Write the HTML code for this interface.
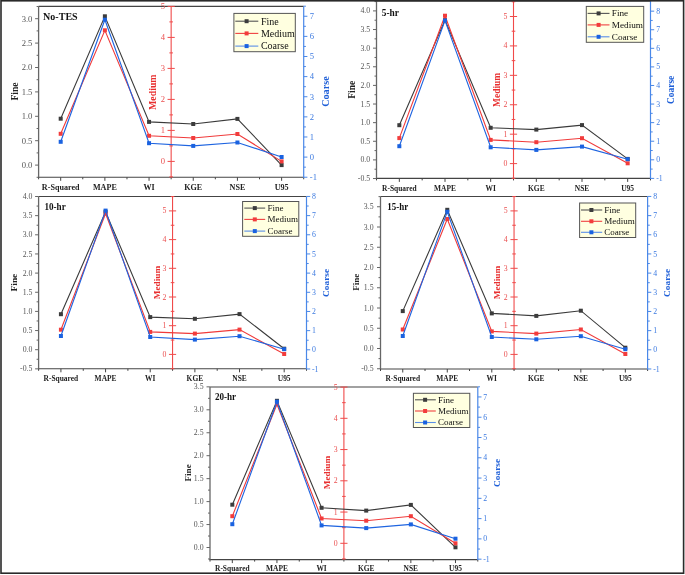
<!DOCTYPE html>
<html><head><meta charset="utf-8"><title>Chart</title>
<style>
html,body{margin:0;padding:0;background:#fff;}
body{width:685px;height:575px;overflow:hidden;font-family:"Liberation Serif", serif;}
svg{display:block;will-change:transform;}
</style></head><body>
<svg width="685" height="575" viewBox="0 0 685 575" font-family="'Liberation Serif', serif">
<rect x="0" y="0" width="685" height="575" fill="#fff"/>
<path d="M38.6 6.4H303.7" stroke="#444" stroke-width="1.1" fill="none"/>
<path d="M38.1 177.3H303.7" stroke="#444" stroke-width="1.1" fill="none"/>
<path d="M38.6 6.4V177.8" stroke="#666" stroke-width="1.3" fill="none"/>
<path d="M60.69 177.3v3.5M104.88 177.3v3.5M149.06 177.3v3.5M193.24 177.3v3.5M237.42 177.3v3.5M281.61 177.3v3.5M38.6 177.3v2M82.78 177.3v2M126.97 177.3v2M171.15 177.3v2M215.33 177.3v2M259.52 177.3v2M303.7 177.3v2" stroke="#444" stroke-width="1" fill="none"/>
<path d="M38.6 177.3h-2M38.6 165.1h-3.5M38.6 152.9h-2M38.6 140.7h-3.5M38.6 128.5h-2M38.6 116.3h-3.5M38.6 104.1h-2M38.6 91.9h-3.5M38.6 79.7h-2M38.6 67.5h-3.5M38.6 55.3h-2M38.6 43.1h-3.5M38.6 30.9h-2M38.6 18.7h-3.5M38.6 6.5h-2" stroke="#666" stroke-width="1" fill="none"/>
<text x="32.4" y="167.94" font-size="8.6" fill="#555" text-anchor="end">0.0</text>
<text x="32.4" y="143.54" font-size="8.6" fill="#555" text-anchor="end">0.5</text>
<text x="32.4" y="119.14" font-size="8.6" fill="#555" text-anchor="end">1.0</text>
<text x="32.4" y="94.74" font-size="8.6" fill="#555" text-anchor="end">1.5</text>
<text x="32.4" y="70.34" font-size="8.6" fill="#555" text-anchor="end">2.0</text>
<text x="32.4" y="45.94" font-size="8.6" fill="#555" text-anchor="end">2.5</text>
<text x="32.4" y="21.54" font-size="8.6" fill="#555" text-anchor="end">3.0</text>
<path d="M171.15 6.4V177.3" stroke="#f04a4a" stroke-width="1.1" fill="none"/>
<path d="M169.35 176.9h3.6M167.55 161.4h7.2M169.35 145.9h3.6M167.55 130.4h7.2M169.35 114.9h3.6M167.55 99.4h7.2M169.35 83.9h3.6M167.55 68.4h7.2M169.35 52.9h3.6M167.55 37.4h7.2M169.35 21.9h3.6M167.55 6.4h7.2" stroke="#f04a4a" stroke-width="1" fill="none"/>
<text x="165.1" y="164.24" font-size="8.6" fill="#ea5050" text-anchor="end">0</text>
<text x="165.1" y="133.24" font-size="8.6" fill="#ea5050" text-anchor="end">1</text>
<text x="165.1" y="102.24" font-size="8.6" fill="#ea5050" text-anchor="end">2</text>
<text x="165.1" y="71.24" font-size="8.6" fill="#ea5050" text-anchor="end">3</text>
<text x="165.1" y="40.24" font-size="8.6" fill="#ea5050" text-anchor="end">4</text>
<text x="165.1" y="9.24" font-size="8.6" fill="#ea5050" text-anchor="end">5</text>
<path d="M303.7 6.4V177.8" stroke="#4a88e8" stroke-width="1.2" fill="none"/>
<path d="M303.7 177.22h3.7M303.7 167.16h2.2M303.7 157.1h3.7M303.7 147.04h2.2M303.7 136.98h3.7M303.7 126.92h2.2M303.7 116.86h3.7M303.7 106.8h2.2M303.7 96.74h3.7M303.7 86.68h2.2M303.7 76.62h3.7M303.7 66.56h2.2M303.7 56.5h3.7M303.7 46.44h2.2M303.7 36.38h3.7M303.7 26.32h2.2M303.7 16.26h3.7M303.7 6.2h2.2" stroke="#4a88e8" stroke-width="1" fill="none"/>
<text x="309.8" y="180.06" font-size="8.6" fill="#3c7ae0" text-anchor="start">-1</text>
<text x="309.8" y="159.94" font-size="8.6" fill="#3c7ae0" text-anchor="start">0</text>
<text x="309.8" y="139.82" font-size="8.6" fill="#3c7ae0" text-anchor="start">1</text>
<text x="309.8" y="119.7" font-size="8.6" fill="#3c7ae0" text-anchor="start">2</text>
<text x="309.8" y="99.58" font-size="8.6" fill="#3c7ae0" text-anchor="start">3</text>
<text x="309.8" y="79.46" font-size="8.6" fill="#3c7ae0" text-anchor="start">4</text>
<text x="309.8" y="59.34" font-size="8.6" fill="#3c7ae0" text-anchor="start">5</text>
<text x="309.8" y="39.22" font-size="8.6" fill="#3c7ae0" text-anchor="start">6</text>
<text x="309.8" y="19.1" font-size="8.6" fill="#3c7ae0" text-anchor="start">7</text>
<text x="60.69" y="190.1" font-size="8.1" font-weight="bold" fill="#222" text-anchor="middle">R-Squared</text>
<text x="104.88" y="190.1" font-size="8.1" font-weight="bold" fill="#222" text-anchor="middle">MAPE</text>
<text x="149.06" y="190.1" font-size="8.1" font-weight="bold" fill="#222" text-anchor="middle">WI</text>
<text x="193.24" y="190.1" font-size="8.1" font-weight="bold" fill="#222" text-anchor="middle">KGE</text>
<text x="237.42" y="190.1" font-size="8.1" font-weight="bold" fill="#222" text-anchor="middle">NSE</text>
<text x="281.61" y="190.1" font-size="8.1" font-weight="bold" fill="#222" text-anchor="middle">U95</text>
<polyline points="60.69,118.7 104.88,16.3 149.06,121.9 193.24,124 237.42,118.9 281.61,165.1" stroke="#3a3a3a" stroke-width="1.1" fill="none"/><rect x="58.69" y="116.7" width="4" height="4" fill="#3c3c3c"/><rect x="102.88" y="14.3" width="4" height="4" fill="#3c3c3c"/><rect x="147.06" y="119.9" width="4" height="4" fill="#3c3c3c"/><rect x="191.24" y="122" width="4" height="4" fill="#3c3c3c"/><rect x="235.42" y="116.9" width="4" height="4" fill="#3c3c3c"/><rect x="279.61" y="163.1" width="4" height="4" fill="#3c3c3c"/>
<polyline points="60.69,133.8 104.88,30.3 149.06,135.8 193.24,138 237.42,134 281.61,161.4" stroke="#f03a3a" stroke-width="1.1" fill="none"/><rect x="58.69" y="131.8" width="4" height="4" fill="#f23c3c"/><rect x="102.88" y="28.3" width="4" height="4" fill="#f23c3c"/><rect x="147.06" y="133.8" width="4" height="4" fill="#f23c3c"/><rect x="191.24" y="136" width="4" height="4" fill="#f23c3c"/><rect x="235.42" y="132" width="4" height="4" fill="#f23c3c"/><rect x="279.61" y="159.4" width="4" height="4" fill="#f23c3c"/>
<polyline points="60.69,141.8 104.88,19.7 149.06,143.2 193.24,145.9 237.42,142.5 281.61,157" stroke="#1e64e0" stroke-width="1.1" fill="none"/><rect x="58.69" y="139.8" width="4" height="4" fill="#1a62e0"/><rect x="102.88" y="17.7" width="4" height="4" fill="#1a62e0"/><rect x="147.06" y="141.2" width="4" height="4" fill="#1a62e0"/><rect x="191.24" y="143.9" width="4" height="4" fill="#1a62e0"/><rect x="235.42" y="140.5" width="4" height="4" fill="#1a62e0"/><rect x="279.61" y="155" width="4" height="4" fill="#1a62e0"/>
<text x="43.1" y="20" font-size="10.3" fill="#111" text-anchor="start" font-weight="bold" textLength="34.6" lengthAdjust="spacingAndGlyphs">No-TES</text>
<rect x="233.9" y="13.4" width="61.4" height="38.3" fill="#ffffe0" stroke="#555" stroke-width="1"/>
<path d="M235.3 21.2H258.3" stroke="#555" stroke-width="1.1"/>
<rect x="244.6" y="19.2" width="4" height="4" fill="#3c3c3c"/>
<text x="260.9" y="24.5" font-size="10" fill="#111" text-anchor="start">Fine</text>
<path d="M235.3 33.4H258.3" stroke="#f04040" stroke-width="1.1"/>
<rect x="244.6" y="31.4" width="4" height="4" fill="#f23c3c"/>
<text x="260.9" y="36.7" font-size="10" fill="#111" text-anchor="start">Medium</text>
<path d="M235.3 46.1H258.3" stroke="#5a8ee8" stroke-width="1.1"/>
<rect x="244.6" y="44.1" width="4" height="4" fill="#1a62e0"/>
<text x="260.9" y="49.4" font-size="10" fill="#111" text-anchor="start">Coarse</text>
<text transform="translate(17.9 91.5) rotate(-90)" x="0" y="0" font-size="9.8" font-weight="bold" fill="#222" text-anchor="middle" textLength="18.1" lengthAdjust="spacingAndGlyphs">Fine</text>
<text transform="translate(156.3 92.2) rotate(-90)" x="0" y="0" font-size="9.8" font-weight="bold" fill="#e83030" text-anchor="middle" textLength="35.5" lengthAdjust="spacingAndGlyphs">Medium</text>
<text transform="translate(328.7 91.6) rotate(-90)" x="0" y="0" font-size="9.8" font-weight="bold" fill="#1e5fd8" text-anchor="middle" textLength="30.5" lengthAdjust="spacingAndGlyphs">Coarse</text>
<path d="M376.5 1H650.5" stroke="#444" stroke-width="1.1" fill="none"/>
<path d="M376 178.4H650.5" stroke="#444" stroke-width="1.1" fill="none"/>
<path d="M376.5 1V178.9" stroke="#666" stroke-width="1.3" fill="none"/>
<path d="M399.33 178.4v3.5M445 178.4v3.5M490.67 178.4v3.5M536.33 178.4v3.5M582 178.4v3.5M627.67 178.4v3.5M376.5 178.4v2M422.17 178.4v2M467.83 178.4v2M513.5 178.4v2M559.17 178.4v2M604.83 178.4v2M650.5 178.4v2" stroke="#444" stroke-width="1" fill="none"/>
<path d="M376.5 178.53h-3.5M376.5 169.21h-2M376.5 159.9h-3.5M376.5 150.59h-2M376.5 141.28h-3.5M376.5 131.96h-2M376.5 122.65h-3.5M376.5 113.34h-2M376.5 104.03h-3.5M376.5 94.71h-2M376.5 85.4h-3.5M376.5 76.09h-2M376.5 66.78h-3.5M376.5 57.46h-2M376.5 48.15h-3.5M376.5 38.84h-2M376.5 29.53h-3.5M376.5 20.21h-2M376.5 10.9h-3.5M376.5 1.59h-2" stroke="#666" stroke-width="1" fill="none"/>
<text x="370.2" y="181.1" font-size="7.8" fill="#555" text-anchor="end">-0.5</text>
<text x="370.2" y="162.47" font-size="7.8" fill="#555" text-anchor="end">0.0</text>
<text x="370.2" y="143.85" font-size="7.8" fill="#555" text-anchor="end">0.5</text>
<text x="370.2" y="125.22" font-size="7.8" fill="#555" text-anchor="end">1.0</text>
<text x="370.2" y="106.6" font-size="7.8" fill="#555" text-anchor="end">1.5</text>
<text x="370.2" y="87.97" font-size="7.8" fill="#555" text-anchor="end">2.0</text>
<text x="370.2" y="69.35" font-size="7.8" fill="#555" text-anchor="end">2.5</text>
<text x="370.2" y="50.72" font-size="7.8" fill="#555" text-anchor="end">3.0</text>
<text x="370.2" y="32.1" font-size="7.8" fill="#555" text-anchor="end">3.5</text>
<text x="370.2" y="13.47" font-size="7.8" fill="#555" text-anchor="end">4.0</text>
<path d="M513.5 1V178.4" stroke="#f04a4a" stroke-width="1.1" fill="none"/>
<path d="M511.7 178.31h3.6M509.9 163.6h7.2M511.7 148.89h3.6M509.9 134.18h7.2M511.7 119.47h3.6M509.9 104.76h7.2M511.7 90.05h3.6M509.9 75.34h7.2M511.7 60.63h3.6M509.9 45.92h7.2M511.7 31.21h3.6M509.9 16.5h7.2M511.7 1.79h3.6" stroke="#f04a4a" stroke-width="1" fill="none"/>
<text x="507.4" y="166.17" font-size="7.8" fill="#ea5050" text-anchor="end">0</text>
<text x="507.4" y="136.75" font-size="7.8" fill="#ea5050" text-anchor="end">1</text>
<text x="507.4" y="107.33" font-size="7.8" fill="#ea5050" text-anchor="end">2</text>
<text x="507.4" y="77.91" font-size="7.8" fill="#ea5050" text-anchor="end">3</text>
<text x="507.4" y="48.49" font-size="7.8" fill="#ea5050" text-anchor="end">4</text>
<text x="507.4" y="19.07" font-size="7.8" fill="#ea5050" text-anchor="end">5</text>
<path d="M650.5 1V178.9" stroke="#4a88e8" stroke-width="1.2" fill="none"/>
<path d="M650.5 178.38h3.7M650.5 169.09h2.2M650.5 159.8h3.7M650.5 150.51h2.2M650.5 141.22h3.7M650.5 131.93h2.2M650.5 122.64h3.7M650.5 113.35h2.2M650.5 104.06h3.7M650.5 94.77h2.2M650.5 85.48h3.7M650.5 76.19h2.2M650.5 66.9h3.7M650.5 57.61h2.2M650.5 48.32h3.7M650.5 39.03h2.2M650.5 29.74h3.7M650.5 20.45h2.2M650.5 11.16h3.7" stroke="#4a88e8" stroke-width="1" fill="none"/>
<text x="656.2" y="180.95" font-size="7.8" fill="#3c7ae0" text-anchor="start">-1</text>
<text x="656.2" y="162.37" font-size="7.8" fill="#3c7ae0" text-anchor="start">0</text>
<text x="656.2" y="143.79" font-size="7.8" fill="#3c7ae0" text-anchor="start">1</text>
<text x="656.2" y="125.21" font-size="7.8" fill="#3c7ae0" text-anchor="start">2</text>
<text x="656.2" y="106.63" font-size="7.8" fill="#3c7ae0" text-anchor="start">3</text>
<text x="656.2" y="88.05" font-size="7.8" fill="#3c7ae0" text-anchor="start">4</text>
<text x="656.2" y="69.47" font-size="7.8" fill="#3c7ae0" text-anchor="start">5</text>
<text x="656.2" y="50.89" font-size="7.8" fill="#3c7ae0" text-anchor="start">6</text>
<text x="656.2" y="32.31" font-size="7.8" fill="#3c7ae0" text-anchor="start">7</text>
<text x="656.2" y="13.73" font-size="7.8" fill="#3c7ae0" text-anchor="start">8</text>
<text x="399.33" y="190.6" font-size="7.45" font-weight="bold" fill="#222" text-anchor="middle">R-Squared</text>
<text x="445" y="190.6" font-size="7.45" font-weight="bold" fill="#222" text-anchor="middle">MAPE</text>
<text x="490.67" y="190.6" font-size="7.45" font-weight="bold" fill="#222" text-anchor="middle">WI</text>
<text x="536.33" y="190.6" font-size="7.45" font-weight="bold" fill="#222" text-anchor="middle">KGE</text>
<text x="582" y="190.6" font-size="7.45" font-weight="bold" fill="#222" text-anchor="middle">NSE</text>
<text x="627.67" y="190.6" font-size="7.45" font-weight="bold" fill="#222" text-anchor="middle">U95</text>
<polyline points="399.33,125.2 445,20.1 490.67,127.8 536.33,129.6 582,125.1 627.67,158.9" stroke="#3a3a3a" stroke-width="1.1" fill="none"/><rect x="397.33" y="123.2" width="4" height="4" fill="#3c3c3c"/><rect x="443" y="18.1" width="4" height="4" fill="#3c3c3c"/><rect x="488.67" y="125.8" width="4" height="4" fill="#3c3c3c"/><rect x="534.33" y="127.6" width="4" height="4" fill="#3c3c3c"/><rect x="580" y="123.1" width="4" height="4" fill="#3c3c3c"/><rect x="625.67" y="156.9" width="4" height="4" fill="#3c3c3c"/>
<polyline points="399.33,138.1 445,15.7 490.67,139.9 536.33,142.2 582,138.2 627.67,163.3" stroke="#f03a3a" stroke-width="1.1" fill="none"/><rect x="397.33" y="136.1" width="4" height="4" fill="#f23c3c"/><rect x="443" y="13.7" width="4" height="4" fill="#f23c3c"/><rect x="488.67" y="137.9" width="4" height="4" fill="#f23c3c"/><rect x="534.33" y="140.2" width="4" height="4" fill="#f23c3c"/><rect x="580" y="136.2" width="4" height="4" fill="#f23c3c"/><rect x="625.67" y="161.3" width="4" height="4" fill="#f23c3c"/>
<polyline points="399.33,146.2 445,20.5 490.67,147.3 536.33,149.9 582,146.6 627.67,159.2" stroke="#1e64e0" stroke-width="1.1" fill="none"/><rect x="397.33" y="144.2" width="4" height="4" fill="#1a62e0"/><rect x="443" y="18.5" width="4" height="4" fill="#1a62e0"/><rect x="488.67" y="145.3" width="4" height="4" fill="#1a62e0"/><rect x="534.33" y="147.9" width="4" height="4" fill="#1a62e0"/><rect x="580" y="144.6" width="4" height="4" fill="#1a62e0"/><rect x="625.67" y="157.2" width="4" height="4" fill="#1a62e0"/>
<text x="381.7" y="15.7" font-size="9.6" fill="#111" text-anchor="start" font-weight="bold" textLength="17.2" lengthAdjust="spacingAndGlyphs">5-hr</text>
<rect x="586.3" y="6.4" width="57.4" height="35.9" fill="#ffffe0" stroke="#555" stroke-width="1"/>
<path d="M587.6 13.4H609.5" stroke="#555" stroke-width="1.1"/>
<rect x="596.6" y="11.4" width="4" height="4" fill="#3c3c3c"/>
<text x="611.8" y="16.44" font-size="9.2" fill="#111" text-anchor="start">Fine</text>
<path d="M587.6 24.9H609.5" stroke="#f04040" stroke-width="1.1"/>
<rect x="596.6" y="22.9" width="4" height="4" fill="#f23c3c"/>
<text x="611.8" y="27.94" font-size="9.2" fill="#111" text-anchor="start">Medium</text>
<path d="M587.6 36.8H609.5" stroke="#5a8ee8" stroke-width="1.1"/>
<rect x="596.6" y="34.8" width="4" height="4" fill="#1a62e0"/>
<text x="611.8" y="39.84" font-size="9.2" fill="#111" text-anchor="start">Coarse</text>
<text transform="translate(354.7 89.8) rotate(-90)" x="0" y="0" font-size="9.4" font-weight="bold" fill="#222" text-anchor="middle" textLength="17.8" lengthAdjust="spacingAndGlyphs">Fine</text>
<text transform="translate(499.7 89.9) rotate(-90)" x="0" y="0" font-size="9.4" font-weight="bold" fill="#e83030" text-anchor="middle" textLength="34.1" lengthAdjust="spacingAndGlyphs">Medium</text>
<text transform="translate(673.7 89.9) rotate(-90)" x="0" y="0" font-size="9.4" font-weight="bold" fill="#1e5fd8" text-anchor="middle" textLength="28.3" lengthAdjust="spacingAndGlyphs">Coarse</text>
<path d="M38.6 196.5H306.5" stroke="#444" stroke-width="1.1" fill="none"/>
<path d="M38.1 368.8H306.5" stroke="#444" stroke-width="1.1" fill="none"/>
<path d="M38.6 196.5V369.3" stroke="#666" stroke-width="1.3" fill="none"/>
<path d="M60.92 368.8v3.5M105.57 368.8v3.5M150.22 368.8v3.5M194.88 368.8v3.5M239.52 368.8v3.5M284.18 368.8v3.5M38.6 368.8v2M83.25 368.8v2M127.9 368.8v2M172.55 368.8v2M217.2 368.8v2M261.85 368.8v2M306.5 368.8v2" stroke="#444" stroke-width="1" fill="none"/>
<path d="M38.6 368.85h-3.5M38.6 359.27h-2M38.6 349.7h-3.5M38.6 340.12h-2M38.6 330.55h-3.5M38.6 320.97h-2M38.6 311.4h-3.5M38.6 301.82h-2M38.6 292.25h-3.5M38.6 282.68h-2M38.6 273.1h-3.5M38.6 263.52h-2M38.6 253.95h-3.5M38.6 244.38h-2M38.6 234.8h-3.5M38.6 225.22h-2M38.6 215.65h-3.5M38.6 206.07h-2M38.6 196.5h-3.5" stroke="#666" stroke-width="1" fill="none"/>
<text x="32.4" y="371.42" font-size="7.8" fill="#555" text-anchor="end">-0.5</text>
<text x="32.4" y="352.27" font-size="7.8" fill="#555" text-anchor="end">0.0</text>
<text x="32.4" y="333.12" font-size="7.8" fill="#555" text-anchor="end">0.5</text>
<text x="32.4" y="313.97" font-size="7.8" fill="#555" text-anchor="end">1.0</text>
<text x="32.4" y="294.82" font-size="7.8" fill="#555" text-anchor="end">1.5</text>
<text x="32.4" y="275.67" font-size="7.8" fill="#555" text-anchor="end">2.0</text>
<text x="32.4" y="256.52" font-size="7.8" fill="#555" text-anchor="end">2.5</text>
<text x="32.4" y="237.37" font-size="7.8" fill="#555" text-anchor="end">3.0</text>
<text x="32.4" y="218.22" font-size="7.8" fill="#555" text-anchor="end">3.5</text>
<text x="32.4" y="199.07" font-size="7.8" fill="#555" text-anchor="end">4.0</text>
<path d="M172.55 196.5V368.8" stroke="#f04a4a" stroke-width="1.1" fill="none"/>
<path d="M170.75 368.75h3.6M168.95 354.4h7.2M170.75 340.05h3.6M168.95 325.7h7.2M170.75 311.35h3.6M168.95 297h7.2M170.75 282.65h3.6M168.95 268.3h7.2M170.75 253.95h3.6M168.95 239.6h7.2M170.75 225.25h3.6M168.95 210.9h7.2M170.75 196.55h3.6" stroke="#f04a4a" stroke-width="1" fill="none"/>
<text x="166.4" y="356.97" font-size="7.8" fill="#ea5050" text-anchor="end">0</text>
<text x="166.4" y="328.27" font-size="7.8" fill="#ea5050" text-anchor="end">1</text>
<text x="166.4" y="299.57" font-size="7.8" fill="#ea5050" text-anchor="end">2</text>
<text x="166.4" y="270.87" font-size="7.8" fill="#ea5050" text-anchor="end">3</text>
<text x="166.4" y="242.17" font-size="7.8" fill="#ea5050" text-anchor="end">4</text>
<text x="166.4" y="213.47" font-size="7.8" fill="#ea5050" text-anchor="end">5</text>
<path d="M306.5 196.5V369.3" stroke="#4a88e8" stroke-width="1.2" fill="none"/>
<path d="M306.5 368.97h3.7M306.5 359.38h2.2M306.5 349.8h3.7M306.5 340.22h2.2M306.5 330.63h3.7M306.5 321.05h2.2M306.5 311.46h3.7M306.5 301.88h2.2M306.5 292.29h3.7M306.5 282.71h2.2M306.5 273.12h3.7M306.5 263.53h2.2M306.5 253.95h3.7M306.5 244.37h2.2M306.5 234.78h3.7M306.5 225.19h2.2M306.5 215.61h3.7M306.5 206.03h2.2M306.5 196.44h3.7" stroke="#4a88e8" stroke-width="1" fill="none"/>
<text x="311.9" y="371.54" font-size="7.8" fill="#3c7ae0" text-anchor="start">-1</text>
<text x="311.9" y="352.37" font-size="7.8" fill="#3c7ae0" text-anchor="start">0</text>
<text x="311.9" y="333.2" font-size="7.8" fill="#3c7ae0" text-anchor="start">1</text>
<text x="311.9" y="314.03" font-size="7.8" fill="#3c7ae0" text-anchor="start">2</text>
<text x="311.9" y="294.86" font-size="7.8" fill="#3c7ae0" text-anchor="start">3</text>
<text x="311.9" y="275.69" font-size="7.8" fill="#3c7ae0" text-anchor="start">4</text>
<text x="311.9" y="256.52" font-size="7.8" fill="#3c7ae0" text-anchor="start">5</text>
<text x="311.9" y="237.35" font-size="7.8" fill="#3c7ae0" text-anchor="start">6</text>
<text x="311.9" y="218.18" font-size="7.8" fill="#3c7ae0" text-anchor="start">7</text>
<text x="311.9" y="199.01" font-size="7.8" fill="#3c7ae0" text-anchor="start">8</text>
<text x="60.92" y="381.1" font-size="7.45" font-weight="bold" fill="#222" text-anchor="middle">R-Squared</text>
<text x="105.57" y="381.1" font-size="7.45" font-weight="bold" fill="#222" text-anchor="middle">MAPE</text>
<text x="150.22" y="381.1" font-size="7.45" font-weight="bold" fill="#222" text-anchor="middle">WI</text>
<text x="194.88" y="381.1" font-size="7.45" font-weight="bold" fill="#222" text-anchor="middle">KGE</text>
<text x="239.52" y="381.1" font-size="7.45" font-weight="bold" fill="#222" text-anchor="middle">NSE</text>
<text x="284.18" y="381.1" font-size="7.45" font-weight="bold" fill="#222" text-anchor="middle">U95</text>
<polyline points="60.92,314.2 105.57,211.8 150.22,317.1 194.88,318.8 239.52,314.1 284.18,348.7" stroke="#3a3a3a" stroke-width="1.1" fill="none"/><rect x="58.92" y="312.2" width="4" height="4" fill="#3c3c3c"/><rect x="103.57" y="209.8" width="4" height="4" fill="#3c3c3c"/><rect x="148.22" y="315.1" width="4" height="4" fill="#3c3c3c"/><rect x="192.88" y="316.8" width="4" height="4" fill="#3c3c3c"/><rect x="237.52" y="312.1" width="4" height="4" fill="#3c3c3c"/><rect x="282.18" y="346.7" width="4" height="4" fill="#3c3c3c"/>
<polyline points="60.92,329.7 105.57,213.5 150.22,331.9 194.88,333.6 239.52,329.6 284.18,354" stroke="#f03a3a" stroke-width="1.1" fill="none"/><rect x="58.92" y="327.7" width="4" height="4" fill="#f23c3c"/><rect x="103.57" y="211.5" width="4" height="4" fill="#f23c3c"/><rect x="148.22" y="329.9" width="4" height="4" fill="#f23c3c"/><rect x="192.88" y="331.6" width="4" height="4" fill="#f23c3c"/><rect x="237.52" y="327.6" width="4" height="4" fill="#f23c3c"/><rect x="282.18" y="352" width="4" height="4" fill="#f23c3c"/>
<polyline points="60.92,336 105.57,210.6 150.22,337 194.88,339.6 239.52,336.2 284.18,349.2" stroke="#1e64e0" stroke-width="1.1" fill="none"/><rect x="58.92" y="334" width="4" height="4" fill="#1a62e0"/><rect x="103.57" y="208.6" width="4" height="4" fill="#1a62e0"/><rect x="148.22" y="335" width="4" height="4" fill="#1a62e0"/><rect x="192.88" y="337.6" width="4" height="4" fill="#1a62e0"/><rect x="237.52" y="334.2" width="4" height="4" fill="#1a62e0"/><rect x="282.18" y="347.2" width="4" height="4" fill="#1a62e0"/>
<text x="44.5" y="210.2" font-size="9.6" fill="#111" text-anchor="start" font-weight="bold" textLength="21.2" lengthAdjust="spacingAndGlyphs">10-hr</text>
<rect x="242.6" y="201.5" width="56.2" height="34.8" fill="#ffffe0" stroke="#555" stroke-width="1"/>
<path d="M244.3 208.1H265.2" stroke="#555" stroke-width="1.1"/>
<rect x="252.8" y="206.1" width="4" height="4" fill="#3c3c3c"/>
<text x="267.5" y="211.07" font-size="9" fill="#111" text-anchor="start">Fine</text>
<path d="M244.3 219.4H265.2" stroke="#f04040" stroke-width="1.1"/>
<rect x="252.8" y="217.4" width="4" height="4" fill="#f23c3c"/>
<text x="267.5" y="222.37" font-size="9" fill="#111" text-anchor="start">Medium</text>
<path d="M244.3 231.1H265.2" stroke="#5a8ee8" stroke-width="1.1"/>
<rect x="252.8" y="229.1" width="4" height="4" fill="#1a62e0"/>
<text x="267.5" y="234.07" font-size="9" fill="#111" text-anchor="start">Coarse</text>
<text transform="translate(16.8 282.6) rotate(-90)" x="0" y="0" font-size="9.2" font-weight="bold" fill="#222" text-anchor="middle" textLength="17.7" lengthAdjust="spacingAndGlyphs">Fine</text>
<text transform="translate(159.5 282.6) rotate(-90)" x="0" y="0" font-size="9.2" font-weight="bold" fill="#e83030" text-anchor="middle" textLength="33.5" lengthAdjust="spacingAndGlyphs">Medium</text>
<text transform="translate(328.9 282.9) rotate(-90)" x="0" y="0" font-size="9.2" font-weight="bold" fill="#1e5fd8" text-anchor="middle" textLength="28" lengthAdjust="spacingAndGlyphs">Coarse</text>
<path d="M380.5 196.5H647.6" stroke="#444" stroke-width="1.1" fill="none"/>
<path d="M380 369H647.6" stroke="#444" stroke-width="1.1" fill="none"/>
<path d="M380.5 196.5V369.5" stroke="#666" stroke-width="1.3" fill="none"/>
<path d="M402.76 369v3.5M447.27 369v3.5M491.79 369v3.5M536.31 369v3.5M580.83 369v3.5M625.34 369v3.5M380.5 369v2M425.02 369v2M469.53 369v2M514.05 369v2M558.57 369v2M603.08 369v2M647.6 369v2" stroke="#444" stroke-width="1" fill="none"/>
<path d="M380.5 368.75h-3.5M380.5 358.62h-2M380.5 348.5h-3.5M380.5 338.38h-2M380.5 328.25h-3.5M380.5 318.12h-2M380.5 308h-3.5M380.5 297.88h-2M380.5 287.75h-3.5M380.5 277.62h-2M380.5 267.5h-3.5M380.5 257.38h-2M380.5 247.25h-3.5M380.5 237.12h-2M380.5 227h-3.5M380.5 216.88h-2M380.5 206.75h-3.5M380.5 196.62h-2" stroke="#666" stroke-width="1" fill="none"/>
<text x="373.6" y="371.32" font-size="7.8" fill="#555" text-anchor="end">-0.5</text>
<text x="373.6" y="351.07" font-size="7.8" fill="#555" text-anchor="end">0.0</text>
<text x="373.6" y="330.82" font-size="7.8" fill="#555" text-anchor="end">0.5</text>
<text x="373.6" y="310.57" font-size="7.8" fill="#555" text-anchor="end">1.0</text>
<text x="373.6" y="290.32" font-size="7.8" fill="#555" text-anchor="end">1.5</text>
<text x="373.6" y="270.07" font-size="7.8" fill="#555" text-anchor="end">2.0</text>
<text x="373.6" y="249.82" font-size="7.8" fill="#555" text-anchor="end">2.5</text>
<text x="373.6" y="229.57" font-size="7.8" fill="#555" text-anchor="end">3.0</text>
<text x="373.6" y="209.32" font-size="7.8" fill="#555" text-anchor="end">3.5</text>
<path d="M514.05 196.5V369" stroke="#f04a4a" stroke-width="1.1" fill="none"/>
<path d="M512.25 368.75h3.6M510.45 354.4h7.2M512.25 340.05h3.6M510.45 325.7h7.2M512.25 311.35h3.6M510.45 297h7.2M512.25 282.65h3.6M510.45 268.3h7.2M512.25 253.95h3.6M510.45 239.6h7.2M512.25 225.25h3.6M510.45 210.9h7.2M512.25 196.55h3.6" stroke="#f04a4a" stroke-width="1" fill="none"/>
<text x="507.6" y="356.97" font-size="7.8" fill="#ea5050" text-anchor="end">0</text>
<text x="507.6" y="328.27" font-size="7.8" fill="#ea5050" text-anchor="end">1</text>
<text x="507.6" y="299.57" font-size="7.8" fill="#ea5050" text-anchor="end">2</text>
<text x="507.6" y="270.87" font-size="7.8" fill="#ea5050" text-anchor="end">3</text>
<text x="507.6" y="242.17" font-size="7.8" fill="#ea5050" text-anchor="end">4</text>
<text x="507.6" y="213.47" font-size="7.8" fill="#ea5050" text-anchor="end">5</text>
<path d="M647.6 196.5V369.5" stroke="#4a88e8" stroke-width="1.2" fill="none"/>
<path d="M647.6 368.97h3.7M647.6 359.38h2.2M647.6 349.8h3.7M647.6 340.22h2.2M647.6 330.63h3.7M647.6 321.05h2.2M647.6 311.46h3.7M647.6 301.88h2.2M647.6 292.29h3.7M647.6 282.71h2.2M647.6 273.12h3.7M647.6 263.53h2.2M647.6 253.95h3.7M647.6 244.37h2.2M647.6 234.78h3.7M647.6 225.19h2.2M647.6 215.61h3.7M647.6 206.03h2.2M647.6 196.44h3.7" stroke="#4a88e8" stroke-width="1" fill="none"/>
<text x="653.2" y="371.54" font-size="7.8" fill="#3c7ae0" text-anchor="start">-1</text>
<text x="653.2" y="352.37" font-size="7.8" fill="#3c7ae0" text-anchor="start">0</text>
<text x="653.2" y="333.2" font-size="7.8" fill="#3c7ae0" text-anchor="start">1</text>
<text x="653.2" y="314.03" font-size="7.8" fill="#3c7ae0" text-anchor="start">2</text>
<text x="653.2" y="294.86" font-size="7.8" fill="#3c7ae0" text-anchor="start">3</text>
<text x="653.2" y="275.69" font-size="7.8" fill="#3c7ae0" text-anchor="start">4</text>
<text x="653.2" y="256.52" font-size="7.8" fill="#3c7ae0" text-anchor="start">5</text>
<text x="653.2" y="237.35" font-size="7.8" fill="#3c7ae0" text-anchor="start">6</text>
<text x="653.2" y="218.18" font-size="7.8" fill="#3c7ae0" text-anchor="start">7</text>
<text x="653.2" y="199.01" font-size="7.8" fill="#3c7ae0" text-anchor="start">8</text>
<text x="402.76" y="381" font-size="7.45" font-weight="bold" fill="#222" text-anchor="middle">R-Squared</text>
<text x="447.27" y="381" font-size="7.45" font-weight="bold" fill="#222" text-anchor="middle">MAPE</text>
<text x="491.79" y="381" font-size="7.45" font-weight="bold" fill="#222" text-anchor="middle">WI</text>
<text x="536.31" y="381" font-size="7.45" font-weight="bold" fill="#222" text-anchor="middle">KGE</text>
<text x="580.83" y="381" font-size="7.45" font-weight="bold" fill="#222" text-anchor="middle">NSE</text>
<text x="625.34" y="381" font-size="7.45" font-weight="bold" fill="#222" text-anchor="middle">U95</text>
<polyline points="402.76,311.1 447.27,209.8 491.79,313.4 536.31,315.9 580.83,310.7 625.34,347.7" stroke="#3a3a3a" stroke-width="1.1" fill="none"/><rect x="400.76" y="309.1" width="4" height="4" fill="#3c3c3c"/><rect x="445.27" y="207.8" width="4" height="4" fill="#3c3c3c"/><rect x="489.79" y="311.4" width="4" height="4" fill="#3c3c3c"/><rect x="534.31" y="313.9" width="4" height="4" fill="#3c3c3c"/><rect x="578.83" y="308.7" width="4" height="4" fill="#3c3c3c"/><rect x="623.34" y="345.7" width="4" height="4" fill="#3c3c3c"/>
<polyline points="402.76,329.5 447.27,219 491.79,331.4 536.31,333.6 580.83,329.5 625.34,354" stroke="#f03a3a" stroke-width="1.1" fill="none"/><rect x="400.76" y="327.5" width="4" height="4" fill="#f23c3c"/><rect x="445.27" y="217" width="4" height="4" fill="#f23c3c"/><rect x="489.79" y="329.4" width="4" height="4" fill="#f23c3c"/><rect x="534.31" y="331.6" width="4" height="4" fill="#f23c3c"/><rect x="578.83" y="327.5" width="4" height="4" fill="#f23c3c"/><rect x="623.34" y="352" width="4" height="4" fill="#f23c3c"/>
<polyline points="402.76,336 447.27,211.8 491.79,337 536.31,339.3 580.83,336.2 625.34,349.2" stroke="#1e64e0" stroke-width="1.1" fill="none"/><rect x="400.76" y="334" width="4" height="4" fill="#1a62e0"/><rect x="445.27" y="209.8" width="4" height="4" fill="#1a62e0"/><rect x="489.79" y="335" width="4" height="4" fill="#1a62e0"/><rect x="534.31" y="337.3" width="4" height="4" fill="#1a62e0"/><rect x="578.83" y="334.2" width="4" height="4" fill="#1a62e0"/><rect x="623.34" y="347.2" width="4" height="4" fill="#1a62e0"/>
<text x="387.3" y="210.3" font-size="9.5" fill="#111" text-anchor="start" font-weight="bold" textLength="20.9" lengthAdjust="spacingAndGlyphs">15-hr</text>
<rect x="579.6" y="203" width="56.1" height="34.5" fill="#ffffe0" stroke="#555" stroke-width="1"/>
<path d="M581 210H602.2" stroke="#555" stroke-width="1.1"/>
<rect x="589.4" y="208" width="4" height="4" fill="#3c3c3c"/>
<text x="604.3" y="212.97" font-size="9" fill="#111" text-anchor="start">Fine</text>
<path d="M581 221.3H602.2" stroke="#f04040" stroke-width="1.1"/>
<rect x="589.4" y="219.3" width="4" height="4" fill="#f23c3c"/>
<text x="604.3" y="224.27" font-size="9" fill="#111" text-anchor="start">Medium</text>
<path d="M581 232.3H602.2" stroke="#5a8ee8" stroke-width="1.1"/>
<rect x="589.4" y="230.3" width="4" height="4" fill="#1a62e0"/>
<text x="604.3" y="235.27" font-size="9" fill="#111" text-anchor="start">Coarse</text>
<text transform="translate(358.5 282.3) rotate(-90)" x="0" y="0" font-size="9.2" font-weight="bold" fill="#222" text-anchor="middle" textLength="17.1" lengthAdjust="spacingAndGlyphs">Fine</text>
<text transform="translate(500.3 282.6) rotate(-90)" x="0" y="0" font-size="9.2" font-weight="bold" fill="#e83030" text-anchor="middle" textLength="33.5" lengthAdjust="spacingAndGlyphs">Medium</text>
<text transform="translate(670.2 282.9) rotate(-90)" x="0" y="0" font-size="9.2" font-weight="bold" fill="#1e5fd8" text-anchor="middle" textLength="28" lengthAdjust="spacingAndGlyphs">Coarse</text>
<path d="M210 387H477.8" stroke="#444" stroke-width="1.1" fill="none"/>
<path d="M209.5 559.6H477.8" stroke="#444" stroke-width="1.1" fill="none"/>
<path d="M210 387V560.1" stroke="#666" stroke-width="1.3" fill="none"/>
<path d="M232.32 559.6v3.5M276.95 559.6v3.5M321.58 559.6v3.5M366.22 559.6v3.5M410.85 559.6v3.5M455.48 559.6v3.5M210 559.6v2M254.63 559.6v2M299.27 559.6v2M343.9 559.6v2M388.53 559.6v2M433.17 559.6v2M477.8 559.6v2" stroke="#444" stroke-width="1" fill="none"/>
<path d="M210 558.98h-2M210 547.5h-3.5M210 536.02h-2M210 524.55h-3.5M210 513.08h-2M210 501.6h-3.5M210 490.12h-2M210 478.65h-3.5M210 467.18h-2M210 455.7h-3.5M210 444.23h-2M210 432.75h-3.5M210 421.27h-2M210 409.8h-3.5M210 398.33h-2M210 386.85h-3.5" stroke="#666" stroke-width="1" fill="none"/>
<text x="203.6" y="550.07" font-size="7.8" fill="#555" text-anchor="end">0.0</text>
<text x="203.6" y="527.12" font-size="7.8" fill="#555" text-anchor="end">0.5</text>
<text x="203.6" y="504.17" font-size="7.8" fill="#555" text-anchor="end">1.0</text>
<text x="203.6" y="481.22" font-size="7.8" fill="#555" text-anchor="end">1.5</text>
<text x="203.6" y="458.27" font-size="7.8" fill="#555" text-anchor="end">2.0</text>
<text x="203.6" y="435.32" font-size="7.8" fill="#555" text-anchor="end">2.5</text>
<text x="203.6" y="412.37" font-size="7.8" fill="#555" text-anchor="end">3.0</text>
<text x="203.6" y="389.42" font-size="7.8" fill="#555" text-anchor="end">3.5</text>
<path d="M343.9 387V559.6" stroke="#f04a4a" stroke-width="1.1" fill="none"/>
<path d="M342.1 558.92h3.6M340.3 543.3h7.2M342.1 527.67h3.6M340.3 512.05h7.2M342.1 496.42h3.6M340.3 480.8h7.2M342.1 465.17h3.6M340.3 449.55h7.2M342.1 433.92h3.6M340.3 418.3h7.2M342.1 402.67h3.6M340.3 387.05h7.2" stroke="#f04a4a" stroke-width="1" fill="none"/>
<text x="337.6" y="545.87" font-size="7.8" fill="#ea5050" text-anchor="end">0</text>
<text x="337.6" y="514.62" font-size="7.8" fill="#ea5050" text-anchor="end">1</text>
<text x="337.6" y="483.37" font-size="7.8" fill="#ea5050" text-anchor="end">2</text>
<text x="337.6" y="452.12" font-size="7.8" fill="#ea5050" text-anchor="end">3</text>
<text x="337.6" y="420.87" font-size="7.8" fill="#ea5050" text-anchor="end">4</text>
<text x="337.6" y="389.62" font-size="7.8" fill="#ea5050" text-anchor="end">5</text>
<path d="M477.8 387V560.1" stroke="#4a88e8" stroke-width="1.2" fill="none"/>
<path d="M477.8 559.18h3.7M477.8 549.04h2.2M477.8 538.9h3.7M477.8 528.76h2.2M477.8 518.62h3.7M477.8 508.48h2.2M477.8 498.34h3.7M477.8 488.2h2.2M477.8 478.06h3.7M477.8 467.92h2.2M477.8 457.78h3.7M477.8 447.64h2.2M477.8 437.5h3.7M477.8 427.36h2.2M477.8 417.22h3.7M477.8 407.08h2.2M477.8 396.94h3.7M477.8 386.8h2.2" stroke="#4a88e8" stroke-width="1" fill="none"/>
<text x="483.2" y="561.75" font-size="7.8" fill="#3c7ae0" text-anchor="start">-1</text>
<text x="483.2" y="541.47" font-size="7.8" fill="#3c7ae0" text-anchor="start">0</text>
<text x="483.2" y="521.19" font-size="7.8" fill="#3c7ae0" text-anchor="start">1</text>
<text x="483.2" y="500.91" font-size="7.8" fill="#3c7ae0" text-anchor="start">2</text>
<text x="483.2" y="480.63" font-size="7.8" fill="#3c7ae0" text-anchor="start">3</text>
<text x="483.2" y="460.35" font-size="7.8" fill="#3c7ae0" text-anchor="start">4</text>
<text x="483.2" y="440.07" font-size="7.8" fill="#3c7ae0" text-anchor="start">5</text>
<text x="483.2" y="419.79" font-size="7.8" fill="#3c7ae0" text-anchor="start">6</text>
<text x="483.2" y="399.51" font-size="7.8" fill="#3c7ae0" text-anchor="start">7</text>
<text x="232.32" y="571.1" font-size="7.45" font-weight="bold" fill="#222" text-anchor="middle">R-Squared</text>
<text x="276.95" y="571.1" font-size="7.45" font-weight="bold" fill="#222" text-anchor="middle">MAPE</text>
<text x="321.58" y="571.1" font-size="7.45" font-weight="bold" fill="#222" text-anchor="middle">WI</text>
<text x="366.22" y="571.1" font-size="7.45" font-weight="bold" fill="#222" text-anchor="middle">KGE</text>
<text x="410.85" y="571.1" font-size="7.45" font-weight="bold" fill="#222" text-anchor="middle">NSE</text>
<text x="455.48" y="571.1" font-size="7.45" font-weight="bold" fill="#222" text-anchor="middle">U95</text>
<polyline points="232.32,504.7 276.95,400.8 321.58,507.8 366.22,510.6 410.85,504.9 455.48,547.3" stroke="#3a3a3a" stroke-width="1.1" fill="none"/><rect x="230.32" y="502.7" width="4" height="4" fill="#3c3c3c"/><rect x="274.95" y="398.8" width="4" height="4" fill="#3c3c3c"/><rect x="319.58" y="505.8" width="4" height="4" fill="#3c3c3c"/><rect x="364.22" y="508.6" width="4" height="4" fill="#3c3c3c"/><rect x="408.85" y="502.9" width="4" height="4" fill="#3c3c3c"/><rect x="453.48" y="545.3" width="4" height="4" fill="#3c3c3c"/>
<polyline points="232.32,516.2 276.95,404.3 321.58,518.5 366.22,520.7 410.85,516.2 455.48,543.3" stroke="#f03a3a" stroke-width="1.1" fill="none"/><rect x="230.32" y="514.2" width="4" height="4" fill="#f23c3c"/><rect x="274.95" y="402.3" width="4" height="4" fill="#f23c3c"/><rect x="319.58" y="516.5" width="4" height="4" fill="#f23c3c"/><rect x="364.22" y="518.7" width="4" height="4" fill="#f23c3c"/><rect x="408.85" y="514.2" width="4" height="4" fill="#f23c3c"/><rect x="453.48" y="541.3" width="4" height="4" fill="#f23c3c"/>
<polyline points="232.32,524.2 276.95,401.7 321.58,525.4 366.22,528.1 410.85,524.4 455.48,538.7" stroke="#1e64e0" stroke-width="1.1" fill="none"/><rect x="230.32" y="522.2" width="4" height="4" fill="#1a62e0"/><rect x="274.95" y="399.7" width="4" height="4" fill="#1a62e0"/><rect x="319.58" y="523.4" width="4" height="4" fill="#1a62e0"/><rect x="364.22" y="526.1" width="4" height="4" fill="#1a62e0"/><rect x="408.85" y="522.4" width="4" height="4" fill="#1a62e0"/><rect x="453.48" y="536.7" width="4" height="4" fill="#1a62e0"/>
<text x="214.9" y="399.7" font-size="9.5" fill="#111" text-anchor="start" font-weight="bold" textLength="21.2" lengthAdjust="spacingAndGlyphs">20-hr</text>
<rect x="413.4" y="393.3" width="56.4" height="34.2" fill="#ffffe0" stroke="#555" stroke-width="1"/>
<path d="M415 399.8H435.8" stroke="#555" stroke-width="1.1"/>
<rect x="423.1" y="397.8" width="4" height="4" fill="#3c3c3c"/>
<text x="438.1" y="402.77" font-size="9" fill="#111" text-anchor="start">Fine</text>
<path d="M415 411H435.8" stroke="#f04040" stroke-width="1.1"/>
<rect x="423.1" y="409" width="4" height="4" fill="#f23c3c"/>
<text x="438.1" y="413.97" font-size="9" fill="#111" text-anchor="start">Medium</text>
<path d="M415 422.5H435.8" stroke="#5a8ee8" stroke-width="1.1"/>
<rect x="423.1" y="420.5" width="4" height="4" fill="#1a62e0"/>
<text x="438.1" y="425.47" font-size="9" fill="#111" text-anchor="start">Coarse</text>
<text transform="translate(190.5 472.9) rotate(-90)" x="0" y="0" font-size="9.2" font-weight="bold" fill="#222" text-anchor="middle" textLength="17.1" lengthAdjust="spacingAndGlyphs">Fine</text>
<text transform="translate(330.2 472.5) rotate(-90)" x="0" y="0" font-size="9.2" font-weight="bold" fill="#e83030" text-anchor="middle" textLength="33.5" lengthAdjust="spacingAndGlyphs">Medium</text>
<text transform="translate(499.9 472.9) rotate(-90)" x="0" y="0" font-size="9.2" font-weight="bold" fill="#1e5fd8" text-anchor="middle" textLength="28" lengthAdjust="spacingAndGlyphs">Coarse</text>
<rect x="1" y="0.8" width="682.6" height="572.4" fill="none" stroke="#2a2a2a" stroke-width="1.6"/>
</svg>
</body></html>
